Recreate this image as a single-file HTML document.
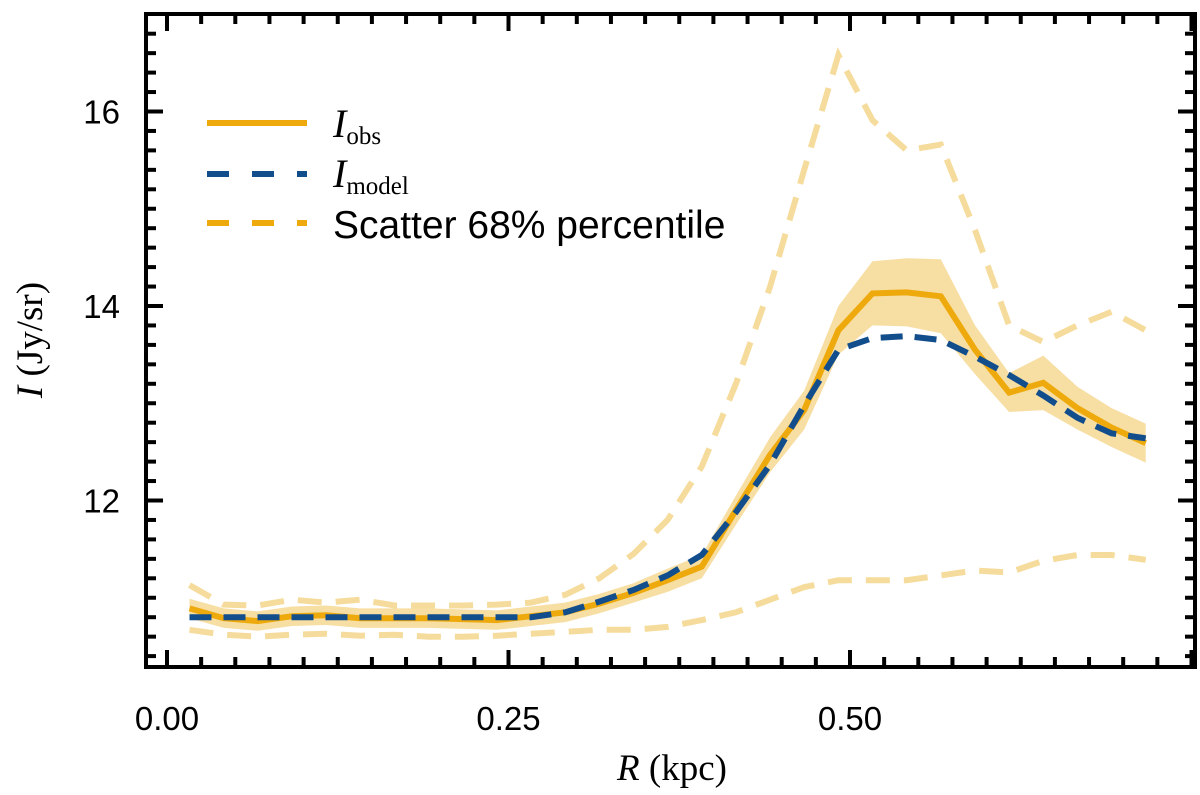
<!DOCTYPE html>
<html><head><meta charset="utf-8"><style>
html,body{margin:0;padding:0;background:#fff;}
svg{display:block;}
</style></head><body>
<svg id="chart" width="1200" height="795" viewBox="0 0 1200 795" xmlns="http://www.w3.org/2000/svg">
<g id="plot"></g>
<g id="axes"></g>
<g id="legend">
  <line x1="207" y1="123" x2="307" y2="123" stroke="#eeaa0c" stroke-width="6"/>
  <text x="333" y="137" font-family="Liberation Serif, serif" font-style="italic" font-size="40">I<tspan font-style="normal" font-size="25" dy="7">obs</tspan></text>
  <line x1="207" y1="174" x2="307" y2="174" stroke="#124d8c" stroke-width="6" stroke-dasharray="22,23"/>
  <text x="333" y="187" font-family="Liberation Serif, serif" font-style="italic" font-size="40">I<tspan font-style="normal" font-size="25" dy="7">model</tspan></text>
  <line x1="207" y1="223" x2="307" y2="223" stroke="#eeaa0c" stroke-width="6" stroke-dasharray="22,23"/>
  <text x="333" y="238" font-family="Liberation Sans, sans-serif" font-size="39">Scatter 68% percentile</text>
</g>
</svg>
<script>
const xValues = [0.0165,0.0415,0.0665,0.0915,0.1165,0.1415,0.1665,0.1915,0.2165,0.2415,0.2665,0.2915,0.3165,0.3415,0.3665,0.3915,0.4165,0.4415,0.4665,0.4915,0.5165,0.5415,0.5665,0.5915,0.6165,0.6415,0.6665,0.6915,0.7165];
const obsValues = [10.89,10.79,10.76,10.81,10.82,10.79,10.79,10.79,10.78,10.77,10.81,10.85,10.94,11.05,11.18,11.32,11.90,12.47,12.93,13.75,14.13,14.14,14.10,13.55,13.11,13.21,12.95,12.75,12.59];
const obsErr = [0.1,0.1,0.1,0.1,0.1,0.1,0.1,0.1,0.1,0.1,0.1,0.1,0.1,0.1,0.12,0.12,0.15,0.18,0.2,0.25,0.33,0.35,0.38,0.25,0.2,0.28,0.22,0.2,0.2];
const modelValues = [10.80,10.80,10.80,10.80,10.80,10.80,10.80,10.80,10.80,10.80,10.80,10.85,10.96,11.08,11.23,11.44,11.88,12.37,12.98,13.55,13.67,13.69,13.65,13.48,13.29,13.08,12.85,12.69,12.64];
const scatterUpper = [11.13,10.93,10.92,10.98,10.95,10.98,10.92,10.92,10.92,10.93,10.95,11.03,11.2,11.45,11.8,12.35,13.2,14.2,15.40,16.58,15.91,15.60,15.66,14.78,13.80,13.63,13.80,13.94,13.75];
const scatterLower = [10.67,10.62,10.60,10.62,10.63,10.61,10.62,10.60,10.60,10.61,10.63,10.65,10.67,10.67,10.70,10.77,10.85,10.98,11.11,11.18,11.18,11.18,11.23,11.28,11.26,11.38,11.44,11.44,11.39];
const xTicks = [0, 0.25, 0.5];
const xTickLabels = ["0.00","0.25","0.50"];
const yTicks = [12, 14, 16];
const yTickLabels = ["12","14","16"];

const L=146, R=1195, T=14, B=667;
const sx = v => 167 + v*1366;
const sy = v => 306 - (v-14)*97.25;
const NS='http://www.w3.org/2000/svg';
function mk(tag, attrs, parent){const e=document.createElementNS(NS,tag);for(const k in attrs)e.setAttribute(k,attrs[k]);parent.appendChild(e);return e;}
const plot=document.getElementById('plot');
const axes=document.getElementById('axes');
const pts = arr => arr.map((v,i)=>sx(xValues[i]).toFixed(1)+','+sy(v).toFixed(1)).join(' ');

const up = obsValues.map((v,i)=>v+obsErr[i]);
const lo = obsValues.map((v,i)=>v-obsErr[i]);
const bandPts = xValues.map((x,i)=>sx(x).toFixed(1)+','+sy(up[i]).toFixed(1)).concat(xValues.map((x,i)=>sx(x).toFixed(1)+','+sy(lo[i]).toFixed(1)).reverse()).join(' ');
const band = mk('polygon',{points:bandPts,fill:'#f7dea3'},plot);



const su = mk('polyline',{points:pts(scatterUpper),fill:'none',stroke:'#f6dc9c',"stroke-width":6,"stroke-dasharray":"24,14"},plot);


const sl = mk('polyline',{points:pts(scatterLower),fill:'none',stroke:'#f6dc9c',"stroke-width":6,"stroke-dasharray":"24,14"},plot);



const ob = mk('polyline',{points:pts(obsValues),fill:'none',stroke:'#eeaa0c',"stroke-width":6,"stroke-linejoin":"miter"},plot);


const md = mk('polyline',{points:pts(modelValues),fill:'none',stroke:'#124d8c',"stroke-width":6,"stroke-dasharray":"22,12"},plot);



const fr = mk('rect',{x:L,y:T,width:R-L,height:B-T,fill:'none',stroke:'#000',"stroke-width":4},axes);



for(let i=0;i<=31;i++){
  const v=i*0.025; const x=sx(v); if(x<L||x>R) continue;
  const major = i%10===0; const len = major?17:10;
  const t1=mk('line',{x1:x,y1:B,x2:x,y2:B-len,stroke:'#000',"stroke-width":4},axes);
  
  
  const t2=mk('line',{x1:x,y1:T,x2:x,y2:T+len,stroke:'#000',"stroke-width":4},axes);
  
  
}
for(let i=0;i<=40;i++){
  const v=10.2+i*0.2; const y=sy(v); if(y<T+2||y>B-2) continue;
  const major = Math.abs(v-Math.round(v))<1e-6 && Math.round(v)%2===0; const len=major?17:10;
  const t1=mk('line',{x1:L,y1:y,x2:L+len,y2:y,stroke:'#000',"stroke-width":4},axes);
  
  
  const t2=mk('line',{x1:R,y1:y,x2:R-len,y2:y,stroke:'#000',"stroke-width":4},axes);
  
  
}
xTicks.forEach((v,i)=>{
  const t=mk('text',{x:sx(v),y:730,"text-anchor":"middle","font-family":"Liberation Sans, sans-serif","font-size":33},axes);
  t.textContent=xTickLabels[i];
  
  
});
yTicks.forEach((v,i)=>{
  const t=mk('text',{x:120,y:sy(v)+12,"text-anchor":"end","font-family":"Liberation Sans, sans-serif","font-size":33},axes);
  t.textContent=yTickLabels[i];
  
  
});
const xt=mk('text',{x:672,y:780,"text-anchor":"middle","font-family":"Liberation Serif, serif","font-size":37},axes);
xt.innerHTML='<tspan font-style="italic">R</tspan> (kpc)';


const yt=mk('text',{x:0,y:0,"text-anchor":"middle","font-family":"Liberation Serif, serif","font-size":37,transform:"translate(42,340) rotate(-90)"},axes);
yt.innerHTML='<tspan font-style="italic">I</tspan> (Jy/sr)';


</script>
</body></html>
